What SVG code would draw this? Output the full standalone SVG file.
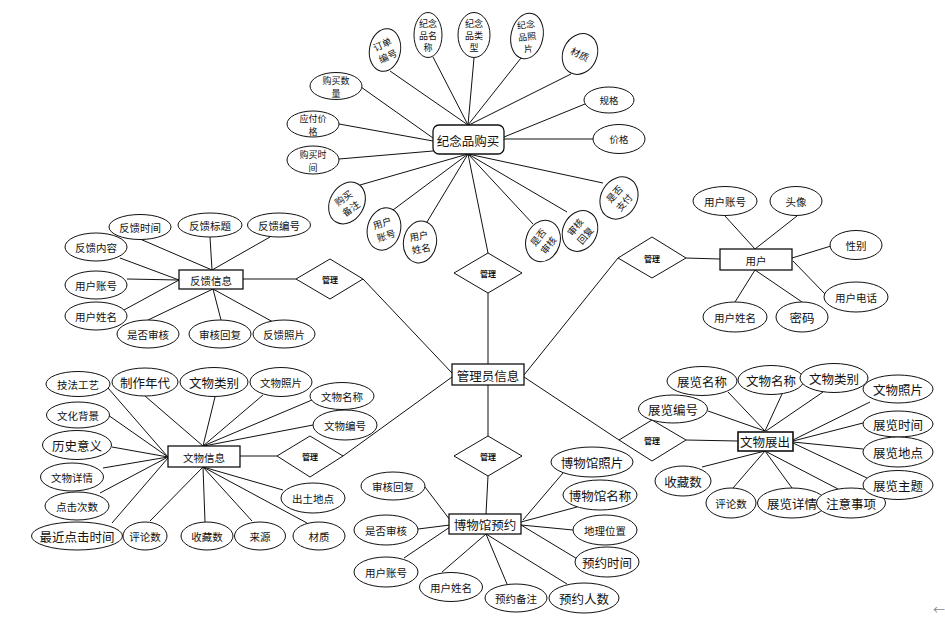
<svg xmlns="http://www.w3.org/2000/svg" width="945" height="620" viewBox="0 0 945 620">
<style>
text{font-family:'Noto Sans CJK SC','Noto Sans CJK JP',sans-serif;text-anchor:middle;dominant-baseline:central;fill:#111}
.s{font-size:10.5px}
.m{font-size:9.5px}
.t{font-size:9px}
.b{font-size:12.5px}
.e{font-size:12.5px}
.d{font-size:8px;font-weight:bold}
ellipse{fill:#fff;stroke:#111;stroke-width:1}
rect{fill:#fff;stroke:#111;stroke-width:1.3}
polygon{fill:#fff;stroke:#111;stroke-width:1}
#connectors line{stroke:#111;stroke-width:1}
</style>
<rect x="0" y="0" width="945" height="620" style="fill:#fff;stroke:none"/>
<g id="connectors">
<line x1="390" y1="71" x2="468" y2="125"/>
<line x1="433" y1="57" x2="468" y2="125"/>
<line x1="474" y1="58" x2="468" y2="125"/>
<line x1="521" y1="58" x2="468" y2="125"/>
<line x1="571" y1="74" x2="469" y2="125"/>
<line x1="585" y1="104" x2="504" y2="137"/>
<line x1="593" y1="139" x2="504" y2="139"/>
<line x1="361" y1="87" x2="433" y2="138"/>
<line x1="339" y1="124" x2="433" y2="141"/>
<line x1="339" y1="159" x2="433" y2="151"/>
<line x1="360" y1="185" x2="468" y2="154"/>
<line x1="393" y1="210" x2="468" y2="154"/>
<line x1="427" y1="222" x2="468" y2="154"/>
<line x1="488" y1="253" x2="468" y2="154"/>
<line x1="533" y1="224" x2="468" y2="154"/>
<line x1="567" y1="212" x2="468" y2="154"/>
<line x1="603" y1="183" x2="468" y2="154"/>
<line x1="488" y1="293" x2="488" y2="364"/>
<line x1="488" y1="385" x2="488" y2="436"/>
<line x1="488" y1="476" x2="486" y2="514"/>
<line x1="363" y1="279" x2="452" y2="373"/>
<line x1="243" y1="279" x2="296" y2="279"/>
<line x1="618" y1="258" x2="524" y2="375"/>
<line x1="686" y1="258" x2="720" y2="259"/>
<line x1="343" y1="456" x2="452" y2="377"/>
<line x1="240" y1="456" x2="277" y2="456"/>
<line x1="524" y1="377" x2="619" y2="440"/>
<line x1="686" y1="440" x2="738" y2="441"/>
<line x1="140" y1="239" x2="212" y2="270"/>
<line x1="210" y1="237" x2="212" y2="270"/>
<line x1="270" y1="237" x2="212" y2="270"/>
<line x1="120" y1="258" x2="179" y2="280"/>
<line x1="127" y1="279" x2="179" y2="280"/>
<line x1="124" y1="310" x2="179" y2="280"/>
<line x1="148" y1="320" x2="213" y2="289"/>
<line x1="221" y1="320" x2="213" y2="289"/>
<line x1="273" y1="322" x2="213" y2="289"/>
<line x1="725" y1="216" x2="755" y2="249"/>
<line x1="797" y1="216" x2="755" y2="249"/>
<line x1="831" y1="246" x2="792" y2="258"/>
<line x1="825" y1="294" x2="793" y2="261"/>
<line x1="735" y1="302" x2="755" y2="270"/>
<line x1="802" y1="302" x2="755" y2="270"/>
<line x1="108" y1="388" x2="168" y2="457"/>
<line x1="145" y1="396" x2="203" y2="446"/>
<line x1="215" y1="397" x2="203" y2="446"/>
<line x1="263" y1="395" x2="203" y2="446"/>
<line x1="312" y1="400" x2="203" y2="446"/>
<line x1="313" y1="425" x2="204" y2="446"/>
<line x1="108" y1="415" x2="168" y2="457"/>
<line x1="112" y1="447" x2="168" y2="457"/>
<line x1="103" y1="468" x2="168" y2="457"/>
<line x1="100" y1="493" x2="168" y2="457"/>
<line x1="112" y1="523" x2="168" y2="458"/>
<line x1="150" y1="521" x2="203" y2="467"/>
<line x1="205" y1="522" x2="203" y2="467"/>
<line x1="252" y1="521" x2="203" y2="467"/>
<line x1="307" y1="523" x2="203" y2="467"/>
<line x1="283" y1="490" x2="203" y2="467"/>
<line x1="425" y1="487" x2="450" y2="520"/>
<line x1="418" y1="529" x2="450" y2="525"/>
<line x1="404" y1="558" x2="450" y2="527"/>
<line x1="442" y1="572" x2="486" y2="534"/>
<line x1="507" y1="584" x2="486" y2="534"/>
<line x1="567" y1="584" x2="486" y2="534"/>
<line x1="579" y1="560" x2="521" y2="525"/>
<line x1="573" y1="530" x2="521" y2="525"/>
<line x1="577" y1="507" x2="521" y2="522"/>
<line x1="563" y1="473" x2="523" y2="520"/>
<line x1="728" y1="392" x2="765" y2="431"/>
<line x1="782" y1="394" x2="765" y2="431"/>
<line x1="823" y1="392" x2="766" y2="431"/>
<line x1="870" y1="402" x2="793" y2="440"/>
<line x1="863" y1="423" x2="793" y2="441"/>
<line x1="863" y1="449" x2="793" y2="442"/>
<line x1="867" y1="478" x2="793" y2="443"/>
<line x1="838" y1="489" x2="765" y2="451"/>
<line x1="792" y1="488" x2="765" y2="451"/>
<line x1="733" y1="488" x2="765" y2="451"/>
<line x1="702" y1="467" x2="765" y2="451"/>
<line x1="708" y1="411" x2="765" y2="431"/>
</g>

<g id="rel-souvenir"><polygon points="488,253 522,273 488,293 454,273"/><text class="d" x="488" y="273">管理</text></g>
<g id="rel-feedback"><polygon points="330,259 363,279 330,299 296,279"/><text class="d" x="330" y="279">管理</text></g>
<g id="rel-user"><polygon points="652,237 686,258 652,278 618,258"/><text class="d" x="652" y="258">管理</text></g>
<g id="rel-artifact"><polygon points="310,436 343,456 310,477 277,456"/><text class="d" x="310" y="456">管理</text></g>
<g id="rel-museum"><polygon points="488,436 522,456 488,476 454,456"/><text class="d" x="488" y="456">管理</text></g>
<g id="rel-exhibit"><polygon points="652,420 686,440 652,461 619,440"/><text class="d" x="652" y="440">管理</text></g>

<g id="admin"><rect x="452" y="364" width="72" height="21"/><text class="e" x="488" y="375">管理员信息</text></g>

<g id="souvenir">
<rect x="433" y="125" width="71" height="29" rx="6"/><text class="e" x="468" y="140">纪念品购买</text>
<g transform="translate(385,50)"><ellipse rx="15.5" ry="21.5" transform="rotate(10)"/><text class="m" transform="rotate(-25)"><tspan x="0" y="-6.5">订单</tspan><tspan x="0" y="6.5">编号</tspan></text></g>
<g transform="translate(428,35)"><ellipse rx="14" ry="22.5"/><text class="t"><tspan x="0" y="-12">纪念</tspan><tspan x="0" y="0">品名</tspan><tspan x="0" y="12">称</tspan></text></g>
<g transform="translate(474,35)"><ellipse rx="16" ry="22.5"/><text class="t"><tspan x="0" y="-12">纪念</tspan><tspan x="0" y="0">品类</tspan><tspan x="0" y="12">型</tspan></text></g>
<g transform="translate(527,36)"><ellipse rx="16" ry="23" transform="rotate(12)"/><text class="t" transform="rotate(-6)"><tspan x="0" y="-12">纪念</tspan><tspan x="0" y="0">品照</tspan><tspan x="0" y="12">片</tspan></text></g>
<g transform="translate(580,54)"><ellipse rx="17" ry="21" transform="rotate(25)"/><text class="m" transform="rotate(25)">材质</text></g>
<g transform="translate(609,100)"><ellipse rx="25" ry="13"/><text class="m">规格</text></g>
<g transform="translate(619,139)"><ellipse rx="26" ry="14.5"/><text class="m">价格</text></g>
<g transform="translate(619,198)"><ellipse rx="18" ry="22" transform="rotate(30)"/><text class="m" transform="rotate(-48)"><tspan x="0" y="-6.5">是否</tspan><tspan x="0" y="6.5">支付</tspan></text></g>
<g transform="translate(580,231)"><ellipse rx="17" ry="21" transform="rotate(25)"/><text class="m" transform="rotate(-50)"><tspan x="0" y="-6.5">审核</tspan><tspan x="0" y="6.5">回复</tspan></text></g>
<g transform="translate(543,241)"><ellipse rx="17" ry="21" transform="rotate(18)"/><text class="m" transform="rotate(-52)"><tspan x="0" y="-6.5">是否</tspan><tspan x="0" y="6.5">审核</tspan></text></g>
<g transform="translate(420,242)"><ellipse rx="16.5" ry="21" transform="rotate(10)"/><text class="m" transform="rotate(-10)"><tspan x="0" y="-6.5">用户</tspan><tspan x="0" y="6.5">姓名</tspan></text></g>
<g transform="translate(384,229)"><ellipse rx="16.5" ry="21.5" transform="rotate(15)"/><text class="m" transform="rotate(-18)"><tspan x="0" y="-6.5">用户</tspan><tspan x="0" y="6.5">账号</tspan></text></g>
<g transform="translate(347,203)"><ellipse rx="17" ry="22" transform="rotate(30)"/><text class="m" transform="rotate(-35)"><tspan x="0" y="-6.5">购买</tspan><tspan x="0" y="6.5">备注</tspan></text></g>
<g transform="translate(313,160)"><ellipse rx="26" ry="14"/><text class="t"><tspan x="0" y="-6.5">购买时</tspan><tspan x="0" y="6.5">间</tspan></text></g>
<g transform="translate(313,124)"><ellipse rx="26" ry="13"/><text class="t"><tspan x="0" y="-6.5">应付价</tspan><tspan x="0" y="6.5">格</tspan></text></g>
<g transform="translate(336,86)"><ellipse rx="26" ry="13.5"/><text class="t"><tspan x="0" y="-6.5">购买数</tspan><tspan x="0" y="6.5">量</tspan></text></g>
</g>

<g id="feedback">
<rect x="179" y="270" width="64" height="19"/><text class="s" x="211" y="280">反馈信息</text>
<ellipse cx="140" cy="227" rx="31" ry="12.5"/><text class="s" x="140" y="227">反馈时间</text>
<ellipse cx="210" cy="225" rx="32" ry="12"/><text class="s" x="210" y="225">反馈标题</text>
<ellipse cx="279" cy="225" rx="31.5" ry="12"/><text class="s" x="279" y="225">反馈编号</text>
<ellipse cx="96" cy="247" rx="31" ry="14"/><text class="s" x="96" y="247">反馈内容</text>
<ellipse cx="96" cy="285" rx="31" ry="14"/><text class="s" x="96" y="285">用户账号</text>
<ellipse cx="96" cy="316" rx="31" ry="14"/><text class="s" x="96" y="316">用户姓名</text>
<ellipse cx="148" cy="334" rx="31" ry="14"/><text class="s" x="148" y="334">是否审核</text>
<ellipse cx="220" cy="334" rx="31" ry="14"/><text class="s" x="220" y="334">审核回复</text>
<ellipse cx="284" cy="334" rx="31" ry="14"/><text class="s" x="284" y="334">反馈照片</text>
</g>

<g id="user">
<rect x="720" y="249" width="72" height="21"/><text class="s" x="756" y="260">用户</text>
<ellipse cx="725" cy="201" rx="32" ry="14.5"/><text class="s" x="725" y="201">用户账号</text>
<ellipse cx="796" cy="201" rx="26" ry="14.5"/><text class="s" x="796" y="201">头像</text>
<ellipse cx="856" cy="245" rx="26" ry="14.5"/><text class="s" x="856" y="245">性别</text>
<ellipse cx="856" cy="297" rx="32" ry="15"/><text class="s" x="856" y="297">用户电话</text>
<ellipse cx="735" cy="317" rx="32" ry="15"/><text class="s" x="735" y="317">用户姓名</text>
<ellipse cx="802" cy="317" rx="26" ry="15"/><text class="b" x="802" y="317">密码</text>
</g>

<g id="artifact">
<rect x="168" y="446" width="72" height="21"/><text class="s" x="204" y="457">文物信息</text>
<ellipse cx="78" cy="384" rx="32" ry="12.5"/><text class="s" x="78" y="384">技法工艺</text>
<ellipse cx="145" cy="382" rx="33" ry="14"/><text class="b" x="145" y="382">制作年代</text>
<ellipse cx="214" cy="382" rx="34" ry="14.5"/><text class="b" x="214" y="382">文物类别</text>
<ellipse cx="281" cy="382" rx="31" ry="14.5"/><text class="s" x="281" y="382">文物照片</text>
<ellipse cx="342" cy="396" rx="32" ry="13.5"/><text class="s" x="342" y="396">文物名称</text>
<ellipse cx="345" cy="425" rx="32" ry="15"/><text class="s" x="345" y="425">文物编号</text>
<ellipse cx="78" cy="415" rx="31.5" ry="13"/><text class="s" x="78" y="415">文化背景</text>
<ellipse cx="77" cy="445" rx="34.5" ry="14.5"/><text class="b" x="77" y="445">历史意义</text>
<ellipse cx="72" cy="477" rx="31.5" ry="14"/><text class="s" x="72" y="477">文物详情</text>
<ellipse cx="77" cy="506" rx="32" ry="14"/><text class="s" x="77" y="506">点击次数</text>
<ellipse cx="77" cy="536" rx="45.5" ry="14"/><text class="b" x="77" y="536">最近点击时间</text>
<ellipse cx="145" cy="536" rx="22" ry="14"/><text class="s" x="145" y="536">评论数</text>
<ellipse cx="207" cy="536" rx="26" ry="14"/><text class="s" x="207" y="536">收藏数</text>
<ellipse cx="260" cy="536" rx="25.5" ry="14"/><text class="s" x="260" y="536">来源</text>
<ellipse cx="319" cy="536" rx="26" ry="14"/><text class="s" x="319" y="536">材质</text>
<ellipse cx="313" cy="498" rx="32" ry="15"/><text class="s" x="313" y="498">出土地点</text>
</g>

<g id="museum">
<rect x="449" y="514" width="72" height="20"/><text class="e" x="485" y="524">博物馆预约</text>
<ellipse cx="393" cy="486" rx="32" ry="14"/><text class="s" x="393" y="486">审核回复</text>
<ellipse cx="386" cy="530" rx="32" ry="15"/><text class="s" x="386" y="530">是否审核</text>
<ellipse cx="386" cy="572" rx="32" ry="15"/><text class="s" x="386" y="572">用户账号</text>
<ellipse cx="451" cy="587" rx="31.5" ry="14.5"/><text class="s" x="451" y="587">用户姓名</text>
<ellipse cx="516" cy="598" rx="31" ry="14"/><text class="s" x="516" y="598">预约备注</text>
<ellipse cx="584" cy="598" rx="35" ry="15"/><text class="b" x="584" y="598">预约人数</text>
<ellipse cx="607" cy="562" rx="32" ry="15"/><text class="b" x="607" y="562">预约时间</text>
<ellipse cx="605" cy="530" rx="32" ry="15"/><text class="s" x="605" y="530">地理位置</text>
<ellipse cx="600" cy="495" rx="37" ry="15"/><text class="b" x="600" y="495">博物馆名称</text>
<ellipse cx="592" cy="462" rx="41" ry="15"/><text class="b" x="592" y="462">博物馆照片</text>
</g>

<g id="exhibition">
<rect x="738" y="432" width="55" height="19" style="stroke-width:1.6"/><text class="b" x="765" y="441">文物展出</text>
<ellipse cx="702" cy="381" rx="35" ry="14.5"/><text class="b" x="702" y="381">展览名称</text>
<ellipse cx="771" cy="380" rx="33" ry="14.5"/><text class="b" x="771" y="380">文物名称</text>
<ellipse cx="834" cy="378" rx="34" ry="14.5"/><text class="b" x="834" y="378">文物类别</text>
<ellipse cx="898" cy="389" rx="35" ry="14"/><text class="b" x="898" y="389">文物照片</text>
<ellipse cx="898" cy="424" rx="35" ry="13"/><text class="b" x="898" y="424">展览时间</text>
<ellipse cx="898" cy="452" rx="35" ry="15"/><text class="b" x="898" y="452">展览地点</text>
<ellipse cx="792" cy="503" rx="34.5" ry="15"/><text class="b" x="792" y="503">展览详情</text>
<ellipse cx="851" cy="503" rx="34.5" ry="15"/><text class="b" x="851" y="503">注意事项</text>
<ellipse cx="898" cy="485" rx="35" ry="14.5"/><text class="b" x="898" y="485">展览主题</text>
<ellipse cx="731" cy="503" rx="25" ry="15"/><text class="s" x="731" y="503">评论数</text>
<ellipse cx="683" cy="481" rx="28" ry="15"/><text class="b" x="683" y="481">收藏数</text>
<ellipse cx="673" cy="409" rx="34.5" ry="14"/><text class="b" x="673" y="409">展览编号</text>
</g>

<text x="939" y="609" style="font-size:12px;fill:#888">←</text>
</svg>
